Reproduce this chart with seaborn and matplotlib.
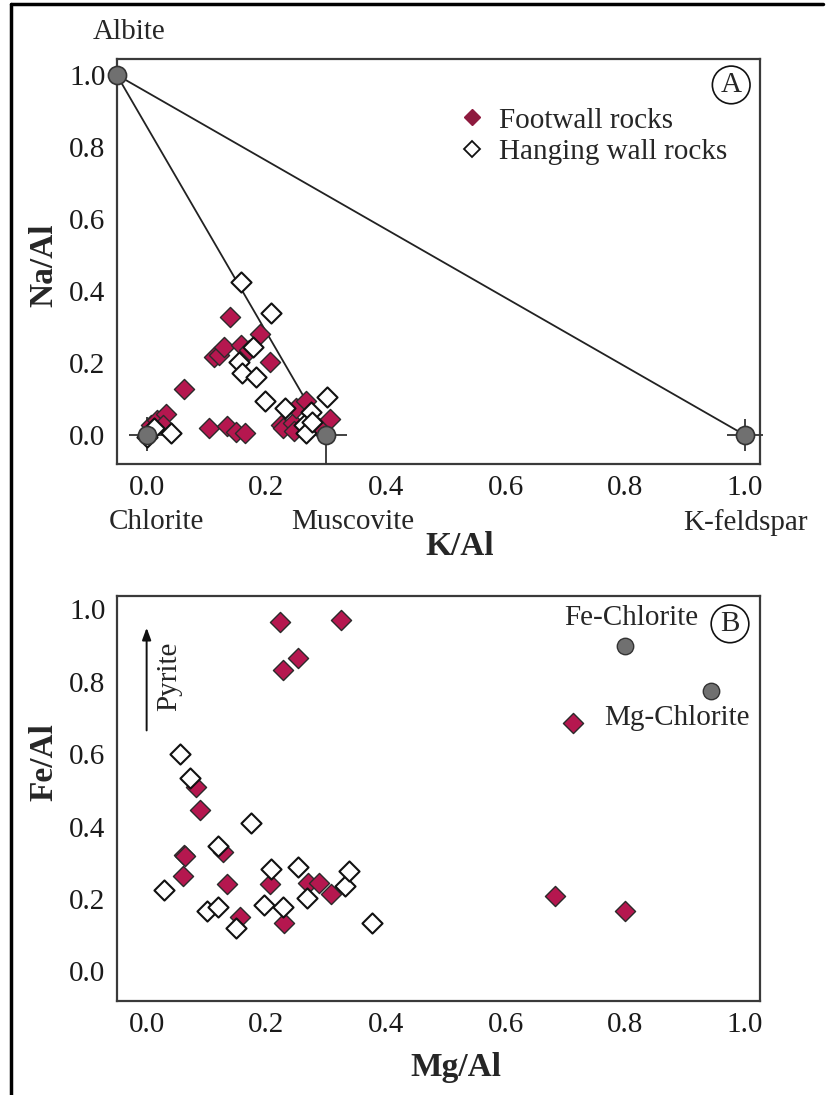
import numpy as np
import pandas as pd
import matplotlib
matplotlib.use("Agg")
import matplotlib.pyplot as plt
from matplotlib.lines import Line2D
from matplotlib.ticker import MultipleLocator
import seaborn as sns

# ---------------- data ----------------
# Panel A: K/Al vs Na/Al
fw_k = [0.139, 0.190, 0.112, 0.121, 0.130, 0.158, 0.171, 0.206, 0.063, 0.007, 0.018,
        0.032, 0.027, 0.012, 0.104, 0.135, 0.149, 0.164, 0.224, 0.228, 0.245, 0.249,
        0.266, 0.246, 0.288, 0.307]
fw_na = [0.329, 0.280, 0.216, 0.222, 0.244, 0.250, 0.236, 0.204, 0.128, 0.028, 0.042,
         0.058, 0.028, 0.020, 0.019, 0.025, 0.010, 0.006, 0.028, 0.020, 0.034, 0.074,
         0.095, 0.012, 0.019, 0.046]
hw_k = [0.158, 0.208, 0.177, 0.154, 0.160, 0.182, 0.197, 0.232, 0.302, 0.040, 0.000,
        0.274, 0.263, 0.267, 0.277, 0.012]
hw_na = [0.426, 0.340, 0.244, 0.204, 0.173, 0.162, 0.095, 0.074, 0.106, 0.005, -0.005,
         0.065, 0.028, 0.005, 0.037, 0.020]

em_a_names = ["Albite", "Chlorite", "Muscovite", "K-feldspar"]
em_a_k = [-0.05, 0.0, 0.3, 1.0]
em_a_na = [1.0, 0.0, 0.0, 0.0]

# Panel B: Mg/Al vs Fe/Al
fw_mg = [0.223, 0.325, 0.253, 0.228, 0.083, 0.090, 0.062, 0.064, 0.060, 0.135, 0.207,
         0.156, 0.229, 0.269, 0.288, 0.308, 0.128, 0.682, 0.799, 0.712]
fw_fe = [0.966, 0.972, 0.865, 0.832, 0.508, 0.446, 0.321, 0.318, 0.263, 0.241, 0.241,
         0.151, 0.134, 0.243, 0.245, 0.215, 0.330, 0.208, 0.167, 0.685]
hw_mg = [0.056, 0.072, 0.174, 0.029, 0.101, 0.119, 0.150, 0.196, 0.228, 0.208, 0.253,
         0.268, 0.331, 0.338, 0.377, 0.120]
hw_fe = [0.600, 0.533, 0.410, 0.226, 0.167, 0.177, 0.121, 0.183, 0.177, 0.284, 0.289,
         0.204, 0.236, 0.278, 0.134, 0.346]

em_b_names = ["Fe-Chlorite", "Mg-Chlorite"]
em_b_mg = [0.80, 0.943]
em_b_fe = [0.90, 0.774]

groups = ["Footwall rocks", "Hanging wall rocks"]
ticks = [0.0, 0.2, 0.4, 0.6, 0.8, 1.0]

# ---------------- style ----------------
sns.set_theme(style="white")
plt.rcParams["font.family"] = ["Liberation Serif", "DejaVu Serif"]

FW_COLOR = "#b5174f"
EDGE = "#2a2a2a"
GRAY = "#707070"
FS = 21

fig = plt.figure(figsize=(8.26, 10.95), dpi=100)
fig.patch.set_facecolor("white")
axA = fig.add_axes([0.1413, 0.5763, 0.7787, 0.3695])
axB = fig.add_axes([0.1413, 0.0858, 0.7787, 0.3699])

dfA = pd.DataFrame({
    "x": fw_k + hw_k,
    "y": fw_na + hw_na,
    "g": [groups[0]] * len(fw_k) + [groups[1]] * len(hw_k),
})
dfB = pd.DataFrame({
    "x": fw_mg + hw_mg,
    "y": fw_fe + hw_fe,
    "g": [groups[0]] * len(fw_mg) + [groups[1]] * len(hw_mg),
})


def style_axes(ax):
    ax.set_xticks(ticks)
    ax.set_yticks(ticks)
    ax.set_xticklabels([f"{t:.1f}" for t in ticks])
    ax.set_yticklabels([f"{t:.1f}" for t in ticks])
    ax.xaxis.set_minor_locator(MultipleLocator(0.1))
    ax.yaxis.set_minor_locator(MultipleLocator(0.1))
    ax.tick_params(which="both", direction="in", top=False, right=False,
                   color="#333333", width=1.2)
    ax.tick_params(which="major", length=6, labelsize=FS, pad=8, labelcolor="#1a1a1a")
    ax.tick_params(which="minor", length=3.5)
    for s in ax.spines.values():
        s.set_color("#3a3a3a")
        s.set_linewidth(1.6)
        s.set_visible(True)
    ax.set_facecolor("white")


def draw_points(ax, df):
    sns.scatterplot(data=df[df.g == groups[0]], x="x", y="y", ax=ax, marker="D",
                    s=105, color=FW_COLOR, edgecolor=EDGE, linewidth=1.0,
                    legend=False, zorder=4)
    sns.scatterplot(data=df[df.g == groups[1]], x="x", y="y", ax=ax, marker="D",
                    s=105, color="white", edgecolor="#111111", linewidth=1.5,
                    legend=False, zorder=5)


# ---------------- Panel A ----------------
style_axes(axA)
axA.plot([em_a_k[0], em_a_k[2]], [em_a_na[0], em_a_na[2]], color="#222222", lw=1.3, zorder=2)
axA.plot([em_a_k[0], em_a_k[3]], [em_a_na[0], em_a_na[3]], color="#222222", lw=1.3, zorder=2)
for i, (xe, ye_lo, ye_hi) in enumerate([(0.03, 0.045, 0.05), (0.035, 0.08, 0.045), (0.03, 0.045, 0.045)]):
    axA.errorbar([em_a_k[i + 1]], [em_a_na[i + 1]], xerr=[[xe], [xe]], yerr=[[ye_lo], [ye_hi]],
                 fmt="none", ecolor="#333333", elinewidth=1.3, capsize=0, zorder=3,
                 clip_on=False)
draw_points(axA, dfA)
sns.scatterplot(x=em_a_k, y=em_a_na, ax=axA, s=170, color=GRAY, edgecolor="#333333",
                linewidth=1.2, legend=False, zorder=6, clip_on=False)
axA.set_xlim(-0.05, 1.025)
axA.set_ylim(-0.08, 1.043)

axA.text(-0.03, 1.12, em_a_names[0], ha="center", va="center", fontsize=FS)
axA.text(0.017, -0.242, em_a_names[1], ha="center", va="center", fontsize=FS)
axA.text(0.344, -0.242, em_a_names[2], ha="center", va="center", fontsize=FS)
axA.text(1.0, -0.242, em_a_names[3], ha="center", va="center", fontsize=FS)

axA.set_xlabel("K/Al", fontsize=24, fontweight="bold")
axA.xaxis.set_label_coords(0.533, -0.166)
axA.set_ylabel("Na/Al", fontsize=24, fontweight="bold")
axA.yaxis.set_label_coords(-0.089, 0.49)

axA.text(0.977, 0.972, "A", ha="center", va="center", fontsize=FS,
         bbox=dict(boxstyle="circle,pad=0.2", fc="white", ec="#111111", lw=1.2))

handles = [
    Line2D([], [], marker="D", ls="none", markersize=8.5, markerfacecolor="#8e1a3e",
           markeredgecolor="#8e1a3e"),
    Line2D([], [], marker="D", ls="none", markersize=8, markerfacecolor="white",
           markeredgecolor="#111111", markeredgewidth=1.3),
]
axA.legend(handles, groups, loc="upper left", bbox_to_anchor=(0.535, 0.882),
           frameon=False, fontsize=FS, handlelength=0.8, handletextpad=0.5,
           labelspacing=0.18, borderpad=0, borderaxespad=0)

# ---------------- Panel B ----------------
style_axes(axB)
draw_points(axB, dfB)
sns.scatterplot(x=em_b_mg, y=em_b_fe, ax=axB, s=140, color=GRAY, edgecolor="#333333",
                linewidth=1.0, legend=False, zorder=6)
axB.set_xlim(-0.05, 1.025)
axB.set_ylim(-0.082, 1.037)

axB.text(0.81, 0.976, em_b_names[0], ha="center", va="center", fontsize=FS)
axB.text(0.886, 0.70, em_b_names[1], ha="center", va="center", fontsize=FS)
axB.text(0.975, 0.96, "B", ha="center", va="center", fontsize=FS,
         bbox=dict(boxstyle="circle,pad=0.2", fc="white", ec="#111111", lw=1.2))

axB.annotate("", xy=(0.0, 0.957), xytext=(0.0, 0.658),
             arrowprops=dict(arrowstyle="-|>,head_length=0.6,head_width=0.22",
                             color="#111111", lw=1.4))
axB.text(0.037, 0.816, "Pyrite", rotation=90, ha="center", va="center", fontsize=FS)

axB.set_xlabel("Mg/Al", fontsize=24, fontweight="bold")
axB.xaxis.set_label_coords(0.527, -0.126)
axB.set_ylabel("Fe/Al", fontsize=24, fontweight="bold")
axB.yaxis.set_label_coords(-0.089, 0.59)

# figure border
fig.add_artist(Line2D([11 / 826, 11 / 826], [0, 1 - 4 / 1095], transform=fig.transFigure,
                      color="black", lw=2.5))
fig.add_artist(Line2D([11 / 826, 823 / 826], [1 - 4 / 1095, 1 - 4 / 1095],
                      transform=fig.transFigure, color="black", lw=2.5))

fig.savefig("out.png", dpi=100, facecolor="white")
